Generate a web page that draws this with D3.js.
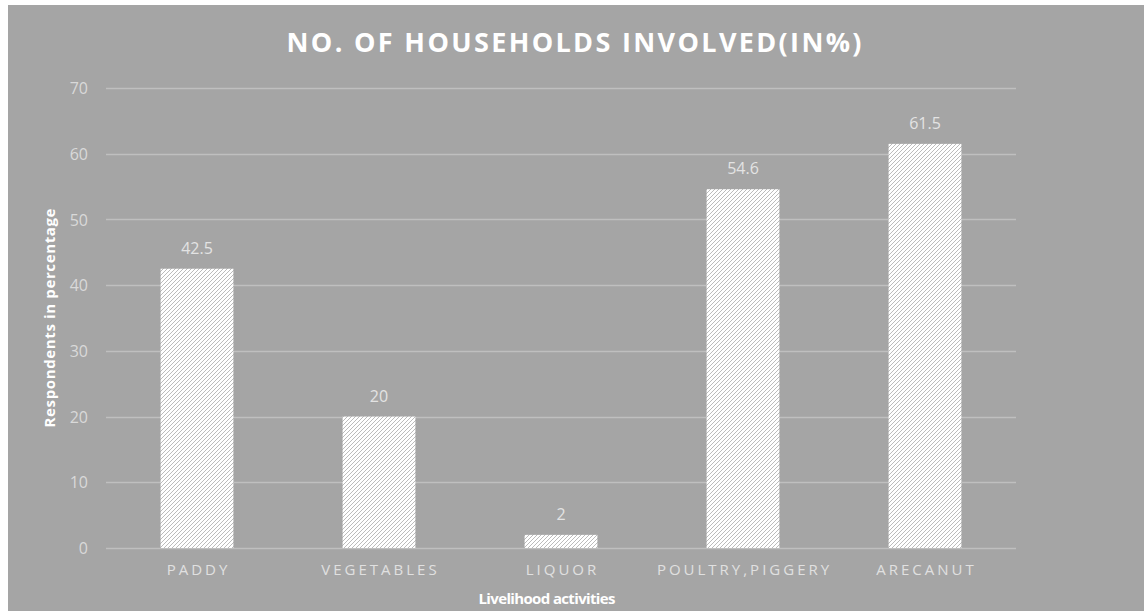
<!DOCTYPE html>
<html>
<head>
<meta charset="utf-8">
<script src="https://cdn.jsdelivr.net/npm/d3@7/dist/d3.min.js"></script>
<style>
  html, body { margin: 0; padding: 0; background: #ffffff; }
  svg { display: block; }
</style>
</head>
<body>
<svg id="chart" width="1147" height="611"></svg>
<script>
// Share of households engaged in each livelihood activity
const categories = ["PADDY", "VEGETABLES", "LIQUOR", "POULTRY,PIGGERY", "ARECANUT"];
const values = [42.5, 20, 2, 54.6, 61.5];
const valueLabels = ["42.5", "20", "2", "54.6", "61.5"];
const yTicks = [0, 10, 20, 30, 40, 50, 60, 70];

const titleText = "NO. OF HOUSEHOLDS INVOLVED(IN%)";
const xTitle = "Livelihood activities";
const yTitle = "Respondents in percentage";

const W = 1147, H = 611;
const margin = { left: 106, right: 131, top: 88, bottom: 63 };
const font = "'Open Sans', 'Noto Sans', sans-serif";

const svg = d3.select("#chart");

// Chart area background
svg.append("rect")
  .attr("x", 8).attr("y", 5)
  .attr("width", 1136).attr("height", H - 5)
  .attr("fill", "#a5a5a5");

// Diagonal hatch fill for the bars
const defs = svg.append("defs");
const pat = defs.append("pattern")
  .attr("id", "hatch")
  .attr("patternUnits", "userSpaceOnUse")
  .attr("width", 4).attr("height", 4);
pat.append("rect").attr("width", 4).attr("height", 4).attr("fill", "#ffffff");
pat.append("path")
  .attr("d", "M-1,1 L1,-1 M0,4 L4,0 M3,5 L5,3")
  .attr("stroke", "#bcbcbc")
  .attr("stroke-width", 1);

const x = d3.scaleBand()
  .domain(categories)
  .range([margin.left, W - margin.right])
  .paddingInner(0.6)
  .paddingOuter(0.3);

const y = d3.scaleLinear()
  .domain([0, 70])
  .range([H - margin.bottom, margin.top]);

// Horizontal gridlines
svg.append("g")
  .selectAll("line")
  .data(yTicks)
  .join("line")
  .attr("x1", margin.left).attr("x2", W - margin.right)
  .attr("y1", d => Math.round(y(d)) + 0.5)
  .attr("y2", d => Math.round(y(d)) + 0.5)
  .attr("stroke", "#bfbfbf")
  .attr("stroke-width", 1.3);

// Y axis tick labels
const yAxis = d3.axisLeft(y).tickValues(yTicks).tickSize(0).tickPadding(0);
const gy = svg.append("g")
  .attr("transform", `translate(${margin.left - 18},0)`)
  .call(yAxis);
gy.select(".domain").remove();
gy.selectAll("text")
  .attr("fill", "#d9d9d9")
  .attr("font-family", font)
  .attr("font-size", 16)
  .attr("dy", "0.35em");

// Bars
svg.append("g")
  .selectAll("rect")
  .data(values)
  .join("rect")
  .attr("x", (d, i) => x(categories[i]))
  .attr("y", d => y(d))
  .attr("width", x.bandwidth())
  .attr("height", d => y(0) - y(d))
  .attr("fill", "url(#hatch)");

// Value labels above bars
svg.append("g")
  .selectAll("text")
  .data(values)
  .join("text")
  .attr("x", (d, i) => x(categories[i]) + x.bandwidth() / 2)
  .attr("y", d => y(d) - 15)
  .attr("text-anchor", "middle")
  .attr("fill", "#e3e3e3")
  .attr("font-family", font)
  .attr("font-size", 16)
  .text((d, i) => valueLabels[i]);

// X axis category labels (letter-spaced, trailing space compensated)
const xAxis = d3.axisBottom(x).tickSize(0).tickPadding(0);
const gx = svg.append("g")
  .attr("transform", `translate(1.5,${H - margin.bottom})`)
  .call(xAxis);
gx.select(".domain").remove();
gx.selectAll("text")
  .attr("fill", "#e0e0e0")
  .attr("font-family", font)
  .attr("font-size", 15)
  .attr("letter-spacing", "3px")
  .attr("y", 27)
  .attr("dy", 0);

// Chart title
svg.append("text")
  .attr("x", 574).attr("y", 52)
  .attr("text-anchor", "middle")
  .attr("fill", "#ffffff")
  .attr("font-family", font)
  .attr("font-weight", "bold")
  .attr("font-size", 27)
  .attr("textLength", 575)
  .attr("lengthAdjust", "spacing")
  .text(titleText);

// Axis titles
svg.append("text")
  .attr("x", 547).attr("y", 604)
  .attr("text-anchor", "middle")
  .attr("fill", "#ffffff")
  .attr("font-family", font)
  .attr("font-weight", "bold")
  .attr("font-size", 15)
  .attr("textLength", 137)
  .attr("lengthAdjust", "spacing")
  .text(xTitle);

svg.append("text")
  .attr("transform", "translate(55,318) rotate(-90)")
  .attr("text-anchor", "middle")
  .attr("fill", "#ffffff")
  .attr("font-family", font)
  .attr("font-weight", "bold")
  .attr("font-size", 15)
  .attr("textLength", 219)
  .attr("lengthAdjust", "spacing")
  .text(yTitle);
</script>
</body>
</html>
